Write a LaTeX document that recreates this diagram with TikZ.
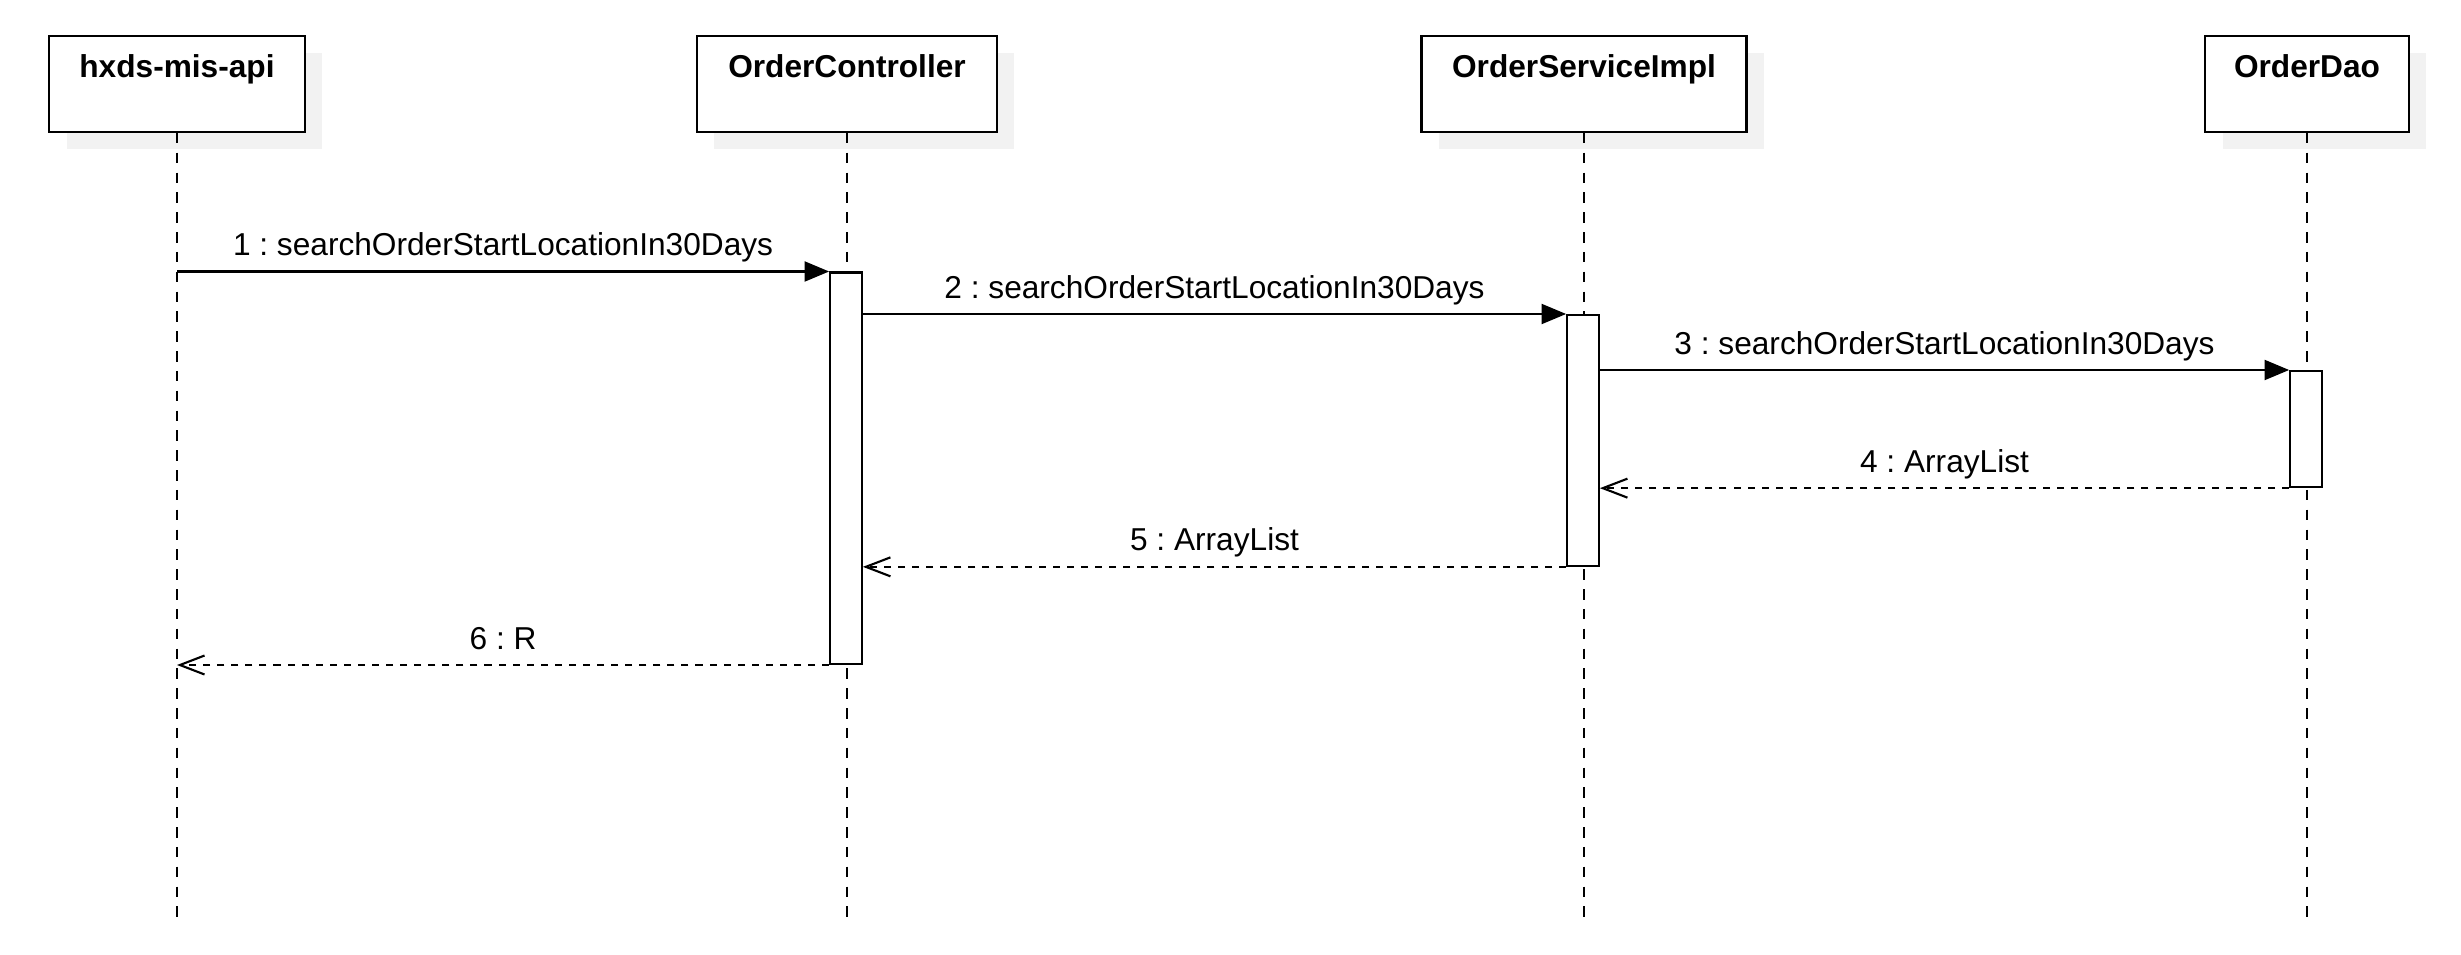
\documentclass[tikz,border=0pt]{standalone}
\usepackage{fontspec}
\setmainfont{Liberation Sans}
\usetikzlibrary{arrows.meta,shadows}
\frenchspacing

\begin{document}
\begin{tikzpicture}[x=0.01cm,y=-0.01cm,font=\fontsize{9}{11}\selectfont,
	participant/.style={draw,line width=0.6pt,fill=white,font=\fontsize{9}{11}\selectfont\bfseries,
		minimum height=27.2pt,inner ysep=0pt,text height=11.8pt,text depth=15.4pt,
		drop shadow={shadow xshift=4.9pt,shadow yshift=-4.9pt,fill=black!5,opacity=1}},
	lifeline/.style={line width=0.5pt,dash pattern=on 3pt off 2.64pt},
	bar/.style={draw,line width=0.6pt,fill=white,minimum width=9pt,inner sep=0pt,anchor=north},
	callmsg/.style={line width=0.6pt,-{Triangle[length=7pt,width=5.7pt]}},
	replymsg/.style={line width=0.6pt,dash pattern=on 2pt off 2pt,-{Straight Barb[length=7pt,width=5.4pt]}},
	msglabel/.style={midway,above=-1pt,text height=6.8pt,text depth=1.9pt}]
				\useasboundingbox (0,0) rectangle (2461,955);
				\node[participant,minimum width=72.6pt] (api) at (177,84) {hxds-mis-api};
				\node[participant,minimum width=85.3pt] (ctrl) at (847,84) {OrderController};
				\node[participant,minimum width=92.4pt] (svc) at (1584,84) {OrderServiceImpl};
				\node[participant,minimum width=57.8pt] (dao) at (2307,84) {OrderDao};
				\coordinate (bottom) at (0,918);
				\draw[lifeline] (api.south) -- (api |- bottom);
				\draw[lifeline] (ctrl.south) -- (ctrl |- bottom);
				\draw[lifeline] (svc.south) -- (svc |- bottom);
				\draw[lifeline] (dao.south) -- (dao |- bottom);
				\node[bar,minimum height=111.3pt] (ctrlbar) at (846,271.5) {};
				\node[bar,minimum height=71.3pt] (svcbar) at (1583,314) {};
				\node[bar,minimum height=33pt] (daobar) at (2306,370) {};
				\draw[callmsg] (api |- ctrlbar.north) -- (ctrlbar.north west)
					node[msglabel] {1 : searchOrderStartLocationIn30Days};
				\draw[callmsg] (ctrlbar.east |- svcbar.north) -- (svcbar.north west)
					node[msglabel] {2 : searchOrderStartLocationIn30Days};
				\draw[callmsg] (svcbar.east |- daobar.north) -- (daobar.north west)
					node[msglabel] {3 : searchOrderStartLocationIn30Days};
				\draw[replymsg] (daobar.south west) -- (svcbar.east |- daobar.south)
					node[msglabel] {4 : ArrayList};
				\draw[replymsg] (svcbar.south west) -- (ctrlbar.east |- svcbar.south)
					node[msglabel] {5 : ArrayList};
				\draw[replymsg] (ctrlbar.south west) -- (api |- ctrlbar.south)
					node[msglabel] {6 : R};
			\end{tikzpicture}
\end{document}
